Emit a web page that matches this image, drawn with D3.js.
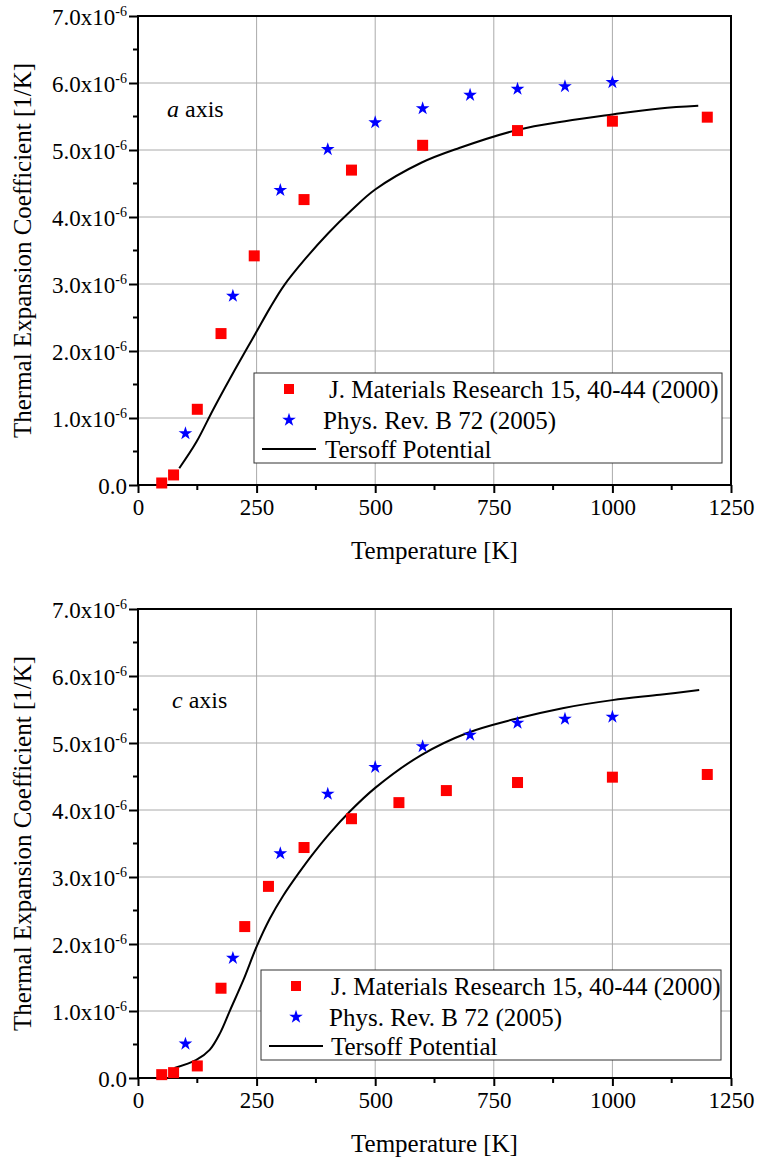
<!DOCTYPE html>
<html>
<head>
<meta charset="utf-8">
<script src="https://cdn.jsdelivr.net/npm/d3@7"></script>
<style>
  body { margin: 0; background: #fff; }
</style>
</head>
<body>
<script>
// values in units of 1e-6 1/K
var tempTicks = [0, 250, 500, 750, 1000, 1250];
var coefTicks = [0, 1, 2, 3, 4, 5, 6, 7];
var legendNames = ['J. Materials Research 15, 40-44 (2000)', 'Phys. Rev. B 72 (2005)', 'Tersoff Potential'];

var aJmrT = [50, 75, 125, 175, 245, 350, 450, 600, 800, 1000, 1200];
var aJmrV = [0.03, 0.15, 1.13, 2.26, 3.42, 4.26, 4.70, 5.07, 5.29, 5.43, 5.49];
var aPrbT = [100, 200, 300, 400, 500, 600, 700, 800, 900, 1000];
var aPrbV = [0.77, 2.82, 4.40, 5.01, 5.41, 5.62, 5.82, 5.91, 5.95, 6.01];
var aTersoffT = [87, 123, 158, 194, 229, 250, 278, 308, 352, 400, 450, 500, 597, 677, 800, 900, 1000, 1100, 1181];
var aTersoffV = [0.25, 0.64, 1.12, 1.59, 2.03, 2.29, 2.64, 2.98, 3.37, 3.75, 4.10, 4.41, 4.81, 5.03, 5.30, 5.43, 5.53, 5.62, 5.66];

var cJmrT = [50, 75, 125, 175, 225, 275, 350, 450, 550, 650, 800, 1000, 1200];
var cJmrV = [0.05, 0.08, 0.18, 1.34, 2.26, 2.86, 3.44, 3.87, 4.11, 4.29, 4.41, 4.49, 4.53];
var cPrbT = [100, 200, 300, 400, 500, 600, 700, 800, 900, 1000];
var cPrbV = [0.51, 1.79, 3.35, 4.24, 4.64, 4.95, 5.12, 5.30, 5.36, 5.39];
var cTersoffT = [77, 123, 151, 173, 194, 222, 250, 278, 306, 341, 366, 405, 444, 500, 597, 694, 790, 895, 1000, 1100, 1183];
var cTersoffV = [0.15, 0.27, 0.42, 0.67, 1.01, 1.46, 1.96, 2.38, 2.72, 3.08, 3.32, 3.66, 3.96, 4.33, 4.82, 5.15, 5.35, 5.52, 5.64, 5.72, 5.79];

var serif = "'Liberation Serif', 'Times New Roman', serif";

var svg = d3.select('body').append('svg')
  .attr('width', 757)
  .attr('height', 1162)
  .style('font-family', serif);

function zip(a, b) {
  return a.map(function (t, i) { return [t, b[i]]; });
}

function drawPanel(top, bottom, axisName, jmrT, jmrV, prbT, prbV, terT, terV, leg) {
  var left = 138, right = 731;
  var x = d3.scaleLinear().domain([0, 1250]).range([left, right]);
  var y = d3.scaleLinear().domain([0, 7]).range([bottom, top]);
  var g = svg.append('g');

  // grid
  g.selectAll('.hg').data([1, 2, 3, 4, 5, 6]).enter().append('line')
    .attr('x1', left).attr('x2', right)
    .attr('y1', function (d) { return y(d); }).attr('y2', function (d) { return y(d); })
    .attr('stroke', '#aaa').attr('stroke-width', 1);
  g.selectAll('.vg').data([250, 500, 750, 1000]).enter().append('line')
    .attr('y1', top).attr('y2', bottom)
    .attr('x1', function (d) { return x(d); }).attr('x2', function (d) { return x(d); })
    .attr('stroke', '#aaa').attr('stroke-width', 1);

  // minor ticks
  g.selectAll('.mx').data([125, 375, 625, 875, 1125]).enter().append('line')
    .attr('x1', function (d) { return x(d); }).attr('x2', function (d) { return x(d); })
    .attr('y1', bottom).attr('y2', bottom + 5)
    .attr('stroke', '#000').attr('stroke-width', 2);
  g.selectAll('.my').data([0.5, 1.5, 2.5, 3.5, 4.5, 5.5, 6.5]).enter().append('line')
    .attr('y1', function (d) { return y(d); }).attr('y2', function (d) { return y(d); })
    .attr('x1', left - 5).attr('x2', left)
    .attr('stroke', '#000').attr('stroke-width', 2);

  // axes
  var xAxis = g.append('g').attr('transform', 'translate(0,' + bottom + ')')
    .call(d3.axisBottom(x).tickValues(tempTicks).tickSize(8).tickPadding(6).tickFormat(d3.format('d')));
  var yAxis = g.append('g').attr('transform', 'translate(' + left + ',0)')
    .call(d3.axisLeft(y).tickValues(coefTicks).tickSize(9).tickPadding(5).tickFormat(''));
  [xAxis, yAxis].forEach(function (ax) {
    ax.attr('font-family', null).attr('font-size', null);
    ax.select('.domain').remove();
    ax.selectAll('line').attr('stroke', '#000').attr('stroke-width', 2);
  });
  xAxis.selectAll('text').style('font-family', serif).style('font-size', '23px').attr('fill', '#000');

  yAxis.selectAll('.tick').each(function (d) {
    var t = d3.select(this).append('text')
      .attr('x', -11).attr('dy', '0.35em')
      .attr('text-anchor', 'end')
      .style('font-family', serif).style('font-size', '23px').attr('fill', '#000');
    if (d === 0) {
      t.text('0.0');
    } else {
      t.append('tspan').text(d.toFixed(1) + 'x10');
      t.append('tspan').attr('dy', '-0.6em').style('font-size', '14px').text('-6');
    }
  });

  // frame
  g.append('rect')
    .attr('x', left).attr('y', top)
    .attr('width', right - left).attr('height', bottom - top)
    .attr('fill', 'none').attr('stroke', '#000').attr('stroke-width', 2);

  // tersoff line
  var line = d3.line()
    .x(function (d) { return x(d[0]); })
    .y(function (d) { return y(d[1]); })
    .curve(d3.curveCatmullRom.alpha(0.5));
  g.append('path').datum(zip(terT, terV))
    .attr('d', line)
    .attr('fill', 'none').attr('stroke', '#000').attr('stroke-width', 2);

  // squares
  g.selectAll('.sq').data(zip(jmrT, jmrV)).enter().append('rect')
    .attr('x', function (d) { return x(d[0]) - 5.5; })
    .attr('y', function (d) { return y(d[1]) - 5.5; })
    .attr('width', 11).attr('height', 11)
    .attr('fill', '#f00');

  // stars
  var star = d3.symbol().type(d3.symbolStar).size(58);
  g.selectAll('.st').data(zip(prbT, prbV)).enter().append('path')
    .attr('d', star)
    .attr('transform', function (d) { return 'translate(' + x(d[0]) + ',' + y(d[1]) + ')'; })
    .attr('fill', '#00f');

  // axis titles
  g.append('text')
    .attr('x', (left + right) / 2).attr('y', bottom + 74)
    .attr('text-anchor', 'middle').style('font-size', '25px')
    .text('Temperature [K]');
  g.append('text')
    .attr('transform', 'translate(31,' + (top + bottom) / 2 + ') rotate(-90)')
    .attr('text-anchor', 'middle').style('font-size', '25px')
    .text('Thermal Expansion Coefficient [1/K]');

  // axis label
  var lab = g.append('text')
    .attr('x', leg.labX).attr('y', leg.labY)
    .style('font-size', '24px');
  lab.append('tspan').attr('font-style', 'italic').text(axisName);
  lab.append('tspan').text(' axis');

  // legend
  var lg = g.append('g');
  lg.append('rect')
    .attr('x', leg.x).attr('y', leg.y)
    .attr('width', leg.w).attr('height', leg.h)
    .attr('fill', '#fff').attr('stroke', '#333').attr('stroke-width', 1);
  var rowY = [leg.y + 16, leg.y + 47, leg.y + 76];
  lg.append('rect')
    .attr('x', leg.mx - 5).attr('y', rowY[0] - 5)
    .attr('width', 10).attr('height', 10).attr('fill', '#f00');
  lg.append('path').attr('d', star)
    .attr('transform', 'translate(' + leg.mx + ',' + rowY[1] + ')')
    .attr('fill', '#00f');
  lg.append('line')
    .attr('x1', leg.mx - 27).attr('x2', leg.mx + 27)
    .attr('y1', rowY[2]).attr('y2', rowY[2])
    .attr('stroke', '#000').attr('stroke-width', 2);
  legendNames.forEach(function (n, i) {
    lg.append('text')
      .attr('x', leg.tx[i]).attr('y', rowY[i]).attr('dy', '0.35em')
      .style('font-size', '25px')
      .text(n);
  });
}

drawPanel(16, 485, 'a', aJmrT, aJmrV, aPrbT, aPrbV, aTersoffT, aTersoffV,
  { x: 254, y: 373, w: 468, h: 90, mx: 289, tx: [329, 323, 325], labX: 167, labY: 117 });
drawPanel(609, 1078, 'c', cJmrT, cJmrV, cPrbT, cPrbV, cTersoffT, cTersoffV,
  { x: 261, y: 970, w: 460, h: 90, mx: 296, tx: [331, 329, 331], labX: 172, labY: 708 });
</script>
</body>
</html>
